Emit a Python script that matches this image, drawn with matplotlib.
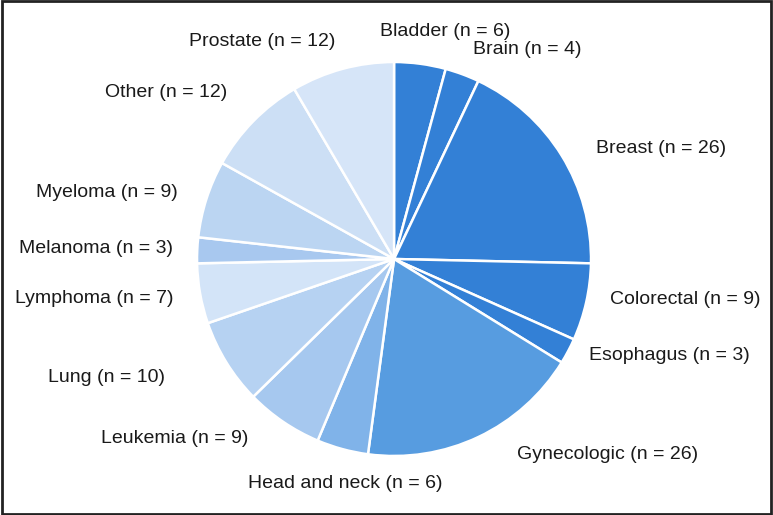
import matplotlib
matplotlib.use("Agg")
import matplotlib.pyplot as plt
import numpy as np

categories = ["Bladder", "Brain", "Breast", "Colorectal", "Esophagus", "Gynecologic",
              "Head and neck", "Leukemia", "Lung", "Lymphoma", "Melanoma", "Myeloma",
              "Other", "Prostate"]
counts = [6, 4, 26, 9, 3, 26, 6, 9, 10, 7, 3, 9, 12, 12]
colors = ["#3380D6", "#3380D6", "#3380D6", "#3380D6", "#3380D6", "#579CE0",
          "#80B3E9", "#A6C8EF", "#B6D2F2", "#D3E4F8", "#A8C8EF", "#BBD5F2",
          "#CCDFF5", "#D6E5F8"]

# label placement (pie radius units) and horizontal alignment
label_xy = [(-0.071, 1.157), (0.401, 1.061), (1.025, 0.563), (1.096, -0.208),
            (0.990, -0.492), (0.625, -0.995), (-0.741, -1.142), (-0.741, -0.909),
            (-1.162, -0.604), (-1.122, -0.203), (-1.122, 0.051), (-1.096, 0.340),
            (-0.848, 0.843), (-0.299, 1.102)]
label_ha = ["left", "left", "left", "left", "left", "left", "left", "right",
            "right", "right", "right", "right", "right", "right"]

plt.rcParams['font.family'] = ['Liberation Sans', 'DejaVu Sans']

fig = plt.figure(figsize=(7.73, 5.15), dpi=100)
ax = fig.add_axes([0.2549, 0.1146, 0.5097, 0.765])
wedges, _ = ax.pie(counts, colors=colors, startangle=90, counterclock=False,
                   wedgeprops=dict(edgecolor="white", linewidth=1.8))
ax.set_xlim(-1, 1)
ax.set_ylim(-1, 1)
ax.set_aspect("equal")

for c, n, (x, y), ha in zip(categories, counts, label_xy, label_ha):
    ax.text(x, y, f"{c} (n = {n})", ha=ha, va="center", fontsize=14,
            color="#1a1a1a", clip_on=False)

border = plt.Rectangle((0.002, 0.002), 0.996, 0.996, transform=fig.transFigure,
                       fill=False, edgecolor="#222222", linewidth=2)
fig.patches.append(border)

fig.savefig("out.png", dpi=100)
